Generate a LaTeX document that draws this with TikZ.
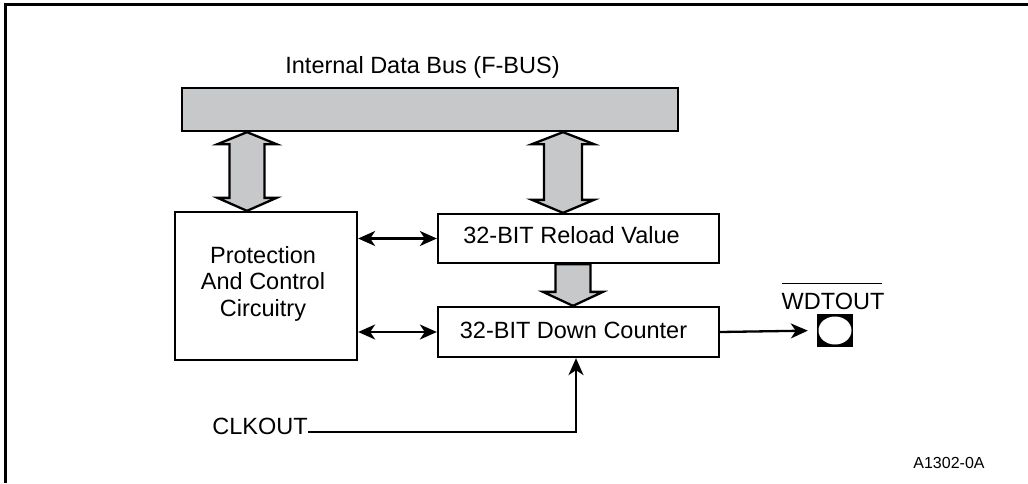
\documentclass[tikz,border=0pt]{standalone}
\usepackage{fontspec}
\setmainfont{Liberation Sans}
\usetikzlibrary{arrows.meta,calc,shapes.geometric}
\definecolor{busgray}{RGB}{199,200,202}
\tikzset{
  txt/.style={inner sep=0pt, font=\fontsize{23.5}{26.5}\selectfont},
  smalltxt/.style={inner sep=0pt, font=\fontsize{16}{19}\selectfont},
  blockbox/.style={draw, line width=2.3pt, rectangle, inner sep=0pt},
  fat/.style={draw, line width=2.3pt, fill=busgray, line join=miter},
  wire/.style={line width=2.3pt},
  mytip/.tip={Stealth[length=17pt,width=15pt,inset=5pt]},
}
% double fat arrow: #1 center x (pt), #2 top point, #3 bottom point, #4 half shaft, #5 half head
\newcommand\fatdbl[5]{%
  \filldraw[fat] let \p1=#2, \p2=#3 in
    (#1pt,\y1) -- (#1pt+#5pt,\y1-12pt) -- (#1pt+#4pt,\y1-12pt) --
    (#1pt+#4pt,\y2+13pt) -- (#1pt+#5pt,\y2+13pt) -- (#1pt,\y2) --
    (#1pt-#5pt,\y2+13pt) -- (#1pt-#4pt,\y2+13pt) -- (#1pt-#4pt,\y1-12pt) --
    (#1pt-#5pt,\y1-12pt) -- cycle;}
\newcommand\fatone[5]{%
  \filldraw[fat] let \p1=#2, \p2=#3 in
    (#1pt-#4pt,\y1) -- (#1pt+#4pt,\y1) -- (#1pt+#4pt,\y2+14pt) --
    (#1pt+#5pt,\y2+14pt) -- (#1pt,\y2) -- (#1pt-#5pt,\y2+14pt) --
    (#1pt-#4pt,\y2+14pt) -- cycle;}
\begin{document}
\begin{tikzpicture}[x=1pt,y=-1pt]
\useasboundingbox (0,0) rectangle (1028,483);
% frame
\draw[line width=3pt] (5.5,483) -- (5.5,4.7) -- (1028,4.7);

% bus
\node[txt] (buslbl) at (422.5,67) {Internal Data Bus (F-BUS)};
\node[blockbox, fill=busgray, minimum width=496pt, minimum height=43pt] (bus) at (430,109.5) {};

% blocks
\node[blockbox, minimum width=182pt, minimum height=148pt] (prot) at (266,286) {};
\node[txt, align=center] (protlbl) at (263,283.5) {Protection\\And Control\\Circuitry};
\node[blockbox, minimum width=281pt, minimum height=49pt] (rel) at (578.5,238.5) {};
\node[txt] (rellbl) at (571.5,235) {32-BIT Reload Value};
\node[blockbox, minimum width=281pt, minimum height=50pt] (cnt) at (578.5,332) {};
\node[txt] (cntlbl) at (573.5,330) {32-BIT Down Counter};

% fat arrows
\fatdbl{247}{(bus.south)}{(prot.north)}{17.5}{29.5}
\fatdbl{563}{(bus.south)}{(rel.north)}{19}{31}
\fatone{573}{(rel.south)}{(cnt.north)}{17.5}{30}

% thin arrows
\draw[wire, mytip-mytip] (prot.east |- rel.west) -- (rel.west);
\draw[wire, mytip-mytip] (prot.east |- cnt.west) -- (cnt.west);

% WDTOUT pin
\node[fill=black, minimum width=36pt, minimum height=33pt, inner sep=0pt] (pin) at (835,330.5) {};
\node[ellipse, fill=white, minimum width=33pt, minimum height=28pt, inner sep=0pt] (pinhole) at (pin.center) {};
\node[txt] (wd) at (833,301) {WDTOUT};
\draw[line width=1.2pt] ([yshift=9pt, xshift=1pt]wd.north west) -- ([yshift=9pt, xshift=-3pt]wd.north east);
\draw[wire, -mytip, shorten >=9pt] (cnt.east) -- (pin.west);

% CLKOUT
\node[txt] (clk) at (260,426) {CLKOUT};
\draw[wire, -mytip] ([yshift=-6pt]clk.east) -| ([xshift=-2.5pt]cnt.south);

% figure id
\node[smalltxt] (fig) at (949,463) {A1302-0A};
\end{tikzpicture}
\end{document}
